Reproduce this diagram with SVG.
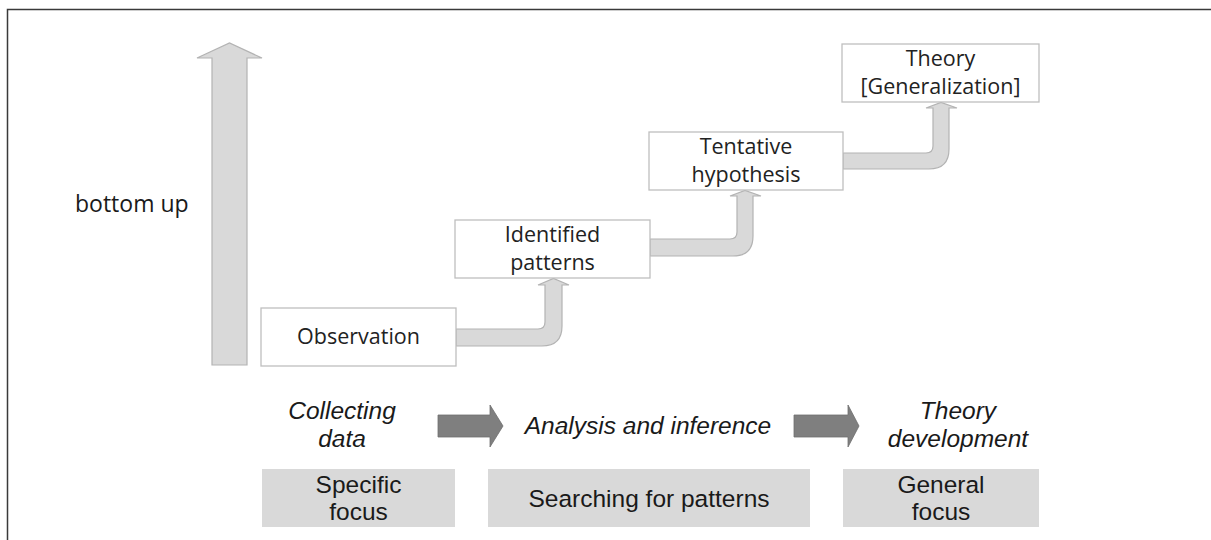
<svg xmlns="http://www.w3.org/2000/svg" width="1211" height="540" viewBox="0 0 1211 540">
<style>
.bg{fill:#ffffff}
.frame{stroke:#3a3a3a;stroke-width:1.5;fill:none}
.box{fill:#ffffff;stroke:#bfbfbf;stroke-width:1.3}
.gbox{fill:#d9d9d9;stroke:none}
.larrow{fill:#d9d9d9;stroke:#b3b3b3;stroke-width:1.2;stroke-linejoin:miter}
.darrow{fill:#7f7f7f;stroke:#6e6e6e;stroke-width:0.8}
.bt{font-family:"Open Sans","Noto Sans",sans-serif;font-size:21.5px;fill:#222222;text-anchor:middle}
.side{font-family:"Open Sans","Noto Sans",sans-serif;font-size:23px;fill:#1a1a1a}
.it{font-family:"Liberation Sans",Arial,sans-serif;font-size:24.5px;font-style:italic;fill:#1a1a1a;text-anchor:middle}
.gt{font-family:"Liberation Sans",Arial,sans-serif;font-size:24.5px;fill:#1a1a1a;text-anchor:middle}
</style>
<rect class="bg" x="0" y="0" width="1211" height="540"/>
<path class="frame" d="M1211,9.5 L7.5,9.5 L7.5,540"/>

<g id="connectors">
  <path id="bottom-up-arrow" class="larrow" d="M212,365 L212,58 L197,58 L229.5,43 L262,58 L247,58 L247,365 Z"/>
  <path id="arrow-obs-pat" class="larrow" d="M456,329 L538,329 Q545,329 545,322 L545,285 L538,285 L553.5,278.5 L569,285 L562,285 L562,326 Q562,346 542,346 L456,346 Z"/>
  <path id="arrow-pat-hyp" class="larrow" d="M650,239 L730,239 Q737,239 737,232 L737,196 L730,196 L745,190.5 L761,196 L753,196 L753,236 Q753,256 733,256 L650,256 Z"/>
  <path id="arrow-hyp-theory" class="larrow" d="M843,153 L926,153 Q933,153 933,146 L933,108 L926,108 L941,102.5 L957,108 L949,108 L949,149 Q949,169 929,169 L843,169 Z"/>
  <path id="arrow-stage1" class="darrow" d="M438,415 L490,415 L490,405 L503,426 L490,447 L490,437 L438,437 Z"/>
  <path id="arrow-stage2" class="darrow" d="M794,415 L848,415 L848,405 L859,426 L848,447 L848,437 L794,437 Z"/>
</g>

<g id="label-bottom-up">
  <text class="side" x="75" y="212">bottom up</text>
</g>

<g id="node-observation">
  <rect class="box" x="261" y="308" width="195" height="58"/>
  <text class="bt" x="358.5" y="344">Observation</text>
</g>

<g id="node-identified-patterns">
  <rect class="box" x="455" y="220" width="195" height="58"/>
  <text class="bt" x="552.5" y="242">Identified</text>
  <text class="bt" x="552.5" y="270">patterns</text>
</g>

<g id="node-tentative-hypothesis">
  <rect class="box" x="649" y="132" width="194" height="58"/>
  <text class="bt" x="746" y="154">Tentative</text>
  <text class="bt" x="746" y="182">hypothesis</text>
</g>

<g id="node-theory">
  <rect class="box" x="842" y="44" width="197" height="58"/>
  <text class="bt" x="940.5" y="66">Theory</text>
  <text class="bt" x="940.5" y="94">[Generalization]</text>
</g>

<g id="stage-collecting">
  <text class="it" x="342" y="419">Collecting</text>
  <text class="it" x="342" y="447">data</text>
</g>
<g id="stage-analysis">
  <text class="it" x="648" y="434">Analysis and inference</text>
</g>
<g id="stage-theory-dev">
  <text class="it" x="958" y="419">Theory</text>
  <text class="it" x="958" y="447">development</text>
</g>

<g id="focus-specific">
  <rect class="gbox" x="262" y="469" width="193" height="58"/>
  <text class="gt" x="358.5" y="493">Specific</text>
  <text class="gt" x="358.5" y="520">focus</text>
</g>
<g id="focus-searching">
  <rect class="gbox" x="488" y="469" width="322" height="58"/>
  <text class="gt" x="649" y="507">Searching for patterns</text>
</g>
<g id="focus-general">
  <rect class="gbox" x="843" y="469" width="196" height="58"/>
  <text class="gt" x="941" y="493">General</text>
  <text class="gt" x="941" y="520">focus</text>
</g>
</svg>
